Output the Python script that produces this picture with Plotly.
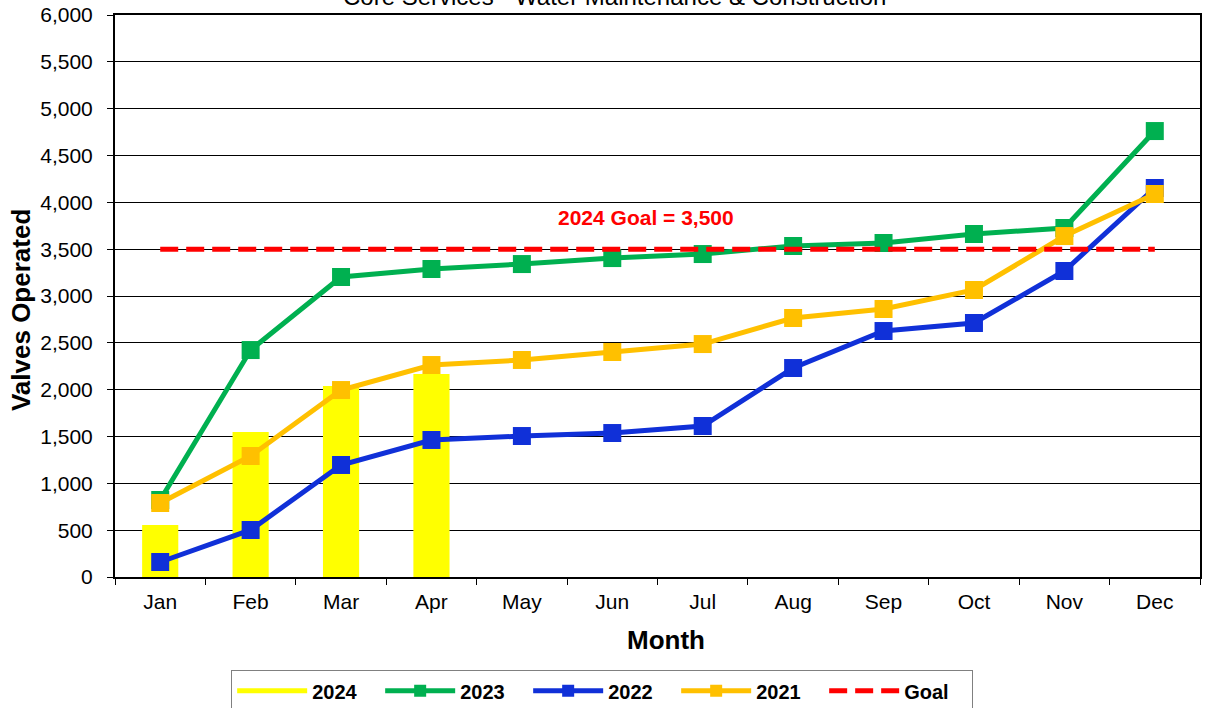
import plotly.graph_objects as go

months = ["Jan", "Feb", "Mar", "Apr", "May", "Jun", "Jul", "Aug", "Sep", "Oct", "Nov", "Dec"]
y2024 = [555, 1548, 2040, 2167]
y2023 = [822, 2423, 3203, 3288, 3341, 3405, 3448, 3534, 3566, 3662, 3726, 4761]
y2022 = [160, 502, 1196, 1463, 1505, 1537, 1612, 2231, 2626, 2712, 3267, 4153]
y2021 = [790, 1292, 1996, 2263, 2317, 2402, 2487, 2765, 2861, 3064, 3640, 4089]
goal = [3500] * 12
title_text = "Core Services - Water Maintenance & Construction"
goal_label = "2024 Goal = 3,500"

FONT = "Arial, Liberation Sans, sans-serif"
YELLOW, GREEN, BLUE, ORANGE, RED = "#FFFF00", "#00B050", "#1030D8", "#FFC000", "#FF0000"

fig = go.Figure()
fig.add_trace(go.Bar(x=months[:len(y2024)], y=y2024, name="2024", legendgroup="2024",
                     showlegend=False,
                     marker=dict(color=YELLOW, line=dict(width=0)), width=0.4))
# legend entry for the bars (wide yellow swatch as in the original legend)
fig.add_trace(go.Scatter(x=[None], y=[None], name="2024", legendgroup="2024",
                         mode="lines", line=dict(color=YELLOW, width=11)))
fig.add_trace(go.Scatter(x=months, y=y2023, name="2023", mode="lines+markers",
                         line=dict(color=GREEN, width=5),
                         marker=dict(symbol="square", size=18, color=GREEN)))
fig.add_trace(go.Scatter(x=months, y=y2022, name="2022", mode="lines+markers",
                         line=dict(color=BLUE, width=5),
                         marker=dict(symbol="square", size=18, color=BLUE)))
fig.add_trace(go.Scatter(x=months, y=y2021, name="2021", mode="lines+markers",
                         line=dict(color=ORANGE, width=5),
                         marker=dict(symbol="square", size=18, color=ORANGE)))
fig.add_trace(go.Scatter(x=months, y=goal, name="Goal", mode="lines",
                         line=dict(color=RED, width=5, dash="18px,8px")))

fig.add_annotation(x=5.37, y=3843, text="<b>" + goal_label + "</b>", showarrow=False,
                   font=dict(family=FONT, size=21, color=RED))
# chart title (partly above the top edge, as in the original)
fig.add_annotation(x=0.46, xref="paper", y=1, yref="paper", yanchor="bottom", yshift=3,
                   text=title_text, showarrow=False,
                   font=dict(family=FONT, size=24, color="black"))
# axis titles
fig.add_annotation(x=0, xref="paper", y=0.475, yref="paper", xanchor="center",
                   yanchor="middle", xshift=-94, textangle=-90,
                   text="<b>Valves Operated</b>",
                   showarrow=False, font=dict(family=FONT, size=26, color="black"))
fig.add_annotation(x=0.508, xref="paper", y=0, yref="paper", yanchor="middle",
                   yshift=-63, text="<b>Month</b>",
                   showarrow=False, font=dict(family=FONT, size=26, color="black"))

fig.update_layout(
    width=1208, height=708,
    margin=dict(l=115, r=8, t=15, b=131, autoexpand=False),
    paper_bgcolor="white", plot_bgcolor="white",
    font=dict(family=FONT, color="black", size=21),
    showlegend=True,
    legend=dict(orientation="h", x=0.449, xanchor="center", y=-0.166, yanchor="top",
                bgcolor="white", bordercolor="#808080", borderwidth=1,
                font=dict(size=20, family=FONT, weight="bold"),
                traceorder="normal", itemwidth=70, entrywidth=63,
                itemsizing="constant"),
)
fig.update_xaxes(type="category", range=[-0.5, 11.5], showline=True, linecolor="black",
                 linewidth=2, mirror=True, ticks="outside", tickson="boundaries",
                 ticklen=6, tickcolor="black", showgrid=False, automargin=False,
                 tickfont=dict(size=21), ticklabelstandoff=5)
fig.update_yaxes(range=[0, 6000], dtick=500, tickformat=",", showline=True,
                 linecolor="black", linewidth=2, mirror=True, ticks="outside",
                 ticklen=6, tickcolor="black", showgrid=True, gridcolor="black",
                 gridwidth=1, zeroline=False, automargin=False,
                 tickfont=dict(size=21), ticklabelstandoff=10)

fig.write_html("out.html", config={"displayModeBar": False},
               post_script="document.body.style.margin='0';")
